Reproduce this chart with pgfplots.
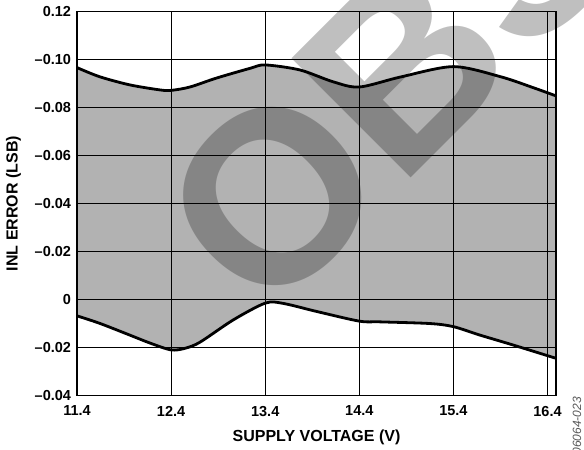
\documentclass[border=0pt]{standalone}
\usepackage{pgfplots}
\usepackage{pgfplotstable}
\pgfplotsset{compat=1.18}
\usepgfplotslibrary{fillbetween}
\usepackage{fontspec}
\setmainfont{Liberation Sans}
\pgfplotstableread{
x y
11.4 0.0967
11.64 0.0929
11.96 0.0895
12.28 0.0874
12.4 0.0872
12.6 0.0886
12.88 0.0923
13.24 0.0964
13.4 0.0978
13.77 0.0957
14.12 0.0908
14.4 0.0886
14.84 0.0928
15.4 0.0971
15.9 0.0929
16.25 0.0883
16.49 0.0849
}\updata
\pgfplotstableread{
x y
11.4 -0.0068
11.64 -0.0099
11.96 -0.0148
12.18 -0.0182
12.4 -0.0210
12.55 -0.0203
12.71 -0.0177
13.06 -0.0085
13.4 -0.0015
13.59 -0.0016
13.95 -0.0050
14.4 -0.0090
14.62 -0.0093
15.15 -0.0100
15.4 -0.0113
15.68 -0.0148
16.03 -0.0189
16.49 -0.0245
}\lowdata
\begin{document}
\begin{tikzpicture}
\begin{axis}[
  at={(0,0)}, anchor=south west,
  scale only axis, width=479bp, height=383.8bp,
  xmin=11.4, xmax=16.49, ymin=-0.04, ymax=0.12,
  xtick={11.4,12.4,13.4,14.4,15.4,16.4},
  xticklabels={11.4,12.4,13.4,14.4,15.4,16.4},
  ytick={-0.04,-0.02,0,0.02,0.04,0.06,0.08,0.10,0.12},
  yticklabels={\textendash0.04,\textendash0.02,0,\textendash0.02,\textendash0.04,\textendash0.06,\textendash0.08,\textendash0.10,0.12},
  scaled ticks=false,
  grid=major, major grid style={black, line width=0.9bp},
  major tick length=0pt,
  axis line style={line width=1.6bp},
  ticklabel style={font=\fontsize{14.5bp}{17bp}\selectfont\bfseries},
  yticklabel style={xshift=-2.5bp},
  xticklabel style={yshift=-7bp},
  label style={font=\fontsize{16bp}{19bp}\selectfont\bfseries},
  xlabel={SUPPLY VOLTAGE (V)}, ylabel={INL ERROR (LSB)},
  xlabel style={at={(axis description cs:0.5,-0.108)}, anchor=center},
  ylabel style={at={(axis description cs:-0.1326,0.5)}, anchor=center},
  axis on top,
]
\addplot[name path=up, smooth, draw=none] table {\updata};
\addplot[name path=lo, smooth, draw=none] table {\lowdata};
\addplot[black!30] fill between[of=up and lo];
\addplot[smooth, line width=2.8bp, black] table {\updata};
\addplot[smooth, line width=2.8bp, black] table {\lowdata};
\end{axis}
\path (-77bp,-54.5bp) rectangle (507bp,395.5bp);
\node[overlay, rotate=45, anchor=base west, inner sep=0pt, text opacity=0.25,
  font=\fontsize{245bp}{245bp}\selectfont\bfseries] at (188bp,71.5bp) {OBSOLETE};
\node[overlay, rotate=90, anchor=east, inner sep=0pt, text=black!65,
  font=\fontsize{12bp}{14bp}\selectfont\itshape] at (500bp,-1.5bp) {06064-023};
\end{tikzpicture}
\end{document}
